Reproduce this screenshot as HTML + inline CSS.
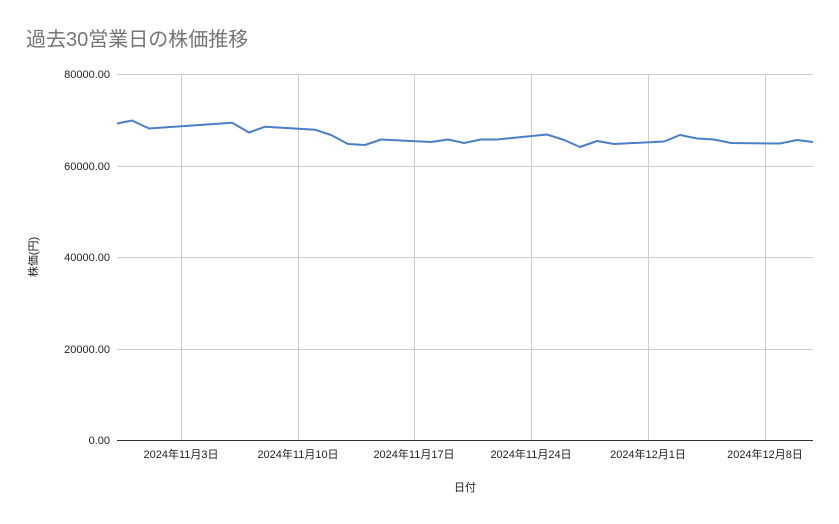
<!DOCTYPE html>
<html><head><meta charset="utf-8"><style>
body{margin:0;background:#fff;}
svg text{font-family:"Liberation Sans","Noto Sans CJK JP",sans-serif;}
</style></head><body>
<svg width="839" height="519" xmlns="http://www.w3.org/2000/svg">
<rect width="839" height="519" fill="#fff"/>
<text x="26" y="46" font-size="20" fill="#757575">過去30営業日の株価推移</text>
<g stroke="#cccccc" stroke-width="1">
<line x1="117" y1="74.5" x2="813" y2="74.5"/>
<line x1="117" y1="166.5" x2="813" y2="166.5"/>
<line x1="117" y1="257.5" x2="813" y2="257.5"/>
<line x1="117" y1="349.5" x2="813" y2="349.5"/>
<line x1="181.5" y1="74" x2="181.5" y2="440"/>
<line x1="298.5" y1="74" x2="298.5" y2="440"/>
<line x1="414.5" y1="74" x2="414.5" y2="440"/>
<line x1="531.5" y1="74" x2="531.5" y2="440"/>
<line x1="648.5" y1="74" x2="648.5" y2="440"/>
<line x1="765.5" y1="74" x2="765.5" y2="440"/>
</g>
<line x1="117" y1="440.5" x2="813" y2="440.5" stroke="#333" stroke-width="1"/>
<g font-size="11" fill="#222" text-anchor="end">
<text x="110" y="78">80000.00</text>
<text x="110" y="170">60000.00</text>
<text x="110" y="261">40000.00</text>
<text x="110" y="353">20000.00</text>
<text x="110" y="444">0.00</text>
</g>
<g font-size="11" fill="#222" text-anchor="middle">
<text x="181" y="458">2024年11月3日</text>
<text x="298" y="458">2024年11月10日</text>
<text x="414" y="458">2024年11月17日</text>
<text x="531" y="458">2024年11月24日</text>
<text x="648" y="458">2024年12月1日</text>
<text x="765" y="458">2024年12月8日</text>
<text x="465" y="491">日付</text>
</g>
<text transform="translate(37,257) rotate(-90)" font-size="11" fill="#222" text-anchor="middle">株価(円)</text>
<polyline fill="none" stroke="#4a7fc8" stroke-width="2" stroke-linejoin="round" points="117,123.5 132,120.5 149,128.5 232,122.7 249,132.5 265,126.7 315,129.7 331,135 348,144 365,145 381,139.5 431,142 448,139.5 464,143 481,139.5 497,139.5 547,134.5 564,140 580,147 597,141 614,144 664,141.5 680,135 697,138.5 714,139.5 731,143 780,143.5 797,140 813,142"/>
</svg>
</body></html>
